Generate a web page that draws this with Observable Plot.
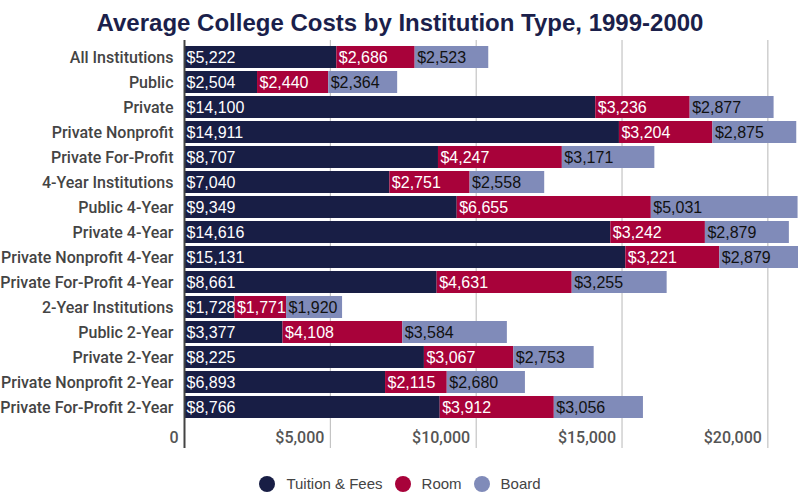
<!DOCTYPE html>
<html>
<head>
<meta charset="utf-8">
<script src="https://cdn.jsdelivr.net/npm/d3@7"></script>
<script src="https://cdn.jsdelivr.net/npm/@observablehq/plot@0.6"></script>
<style>
  html, body { margin: 0; padding: 0; background: #fff; }
  #wrap { width: 800px; height: 500px; position: relative; }
  #title {
    height: 38px; line-height: 45px; text-align: center;
    font-family: "Liberation Sans", Arial, sans-serif; font-weight: 700; font-size: 24px; color: #1b1f4b;
  }
  #chart svg { display: block; }
  #legend {
    position: absolute; left: 0; right: 0; top: 475px;
    display: flex; justify-content: center; align-items: center;
    font-family: "Liberation Sans", Arial, sans-serif; font-size: 15px; color: #444;
  }
  .item { display: flex; align-items: center; margin: 0 6px; }
  .dot { width: 16px; height: 16px; border-radius: 50%; margin-right: 11px; }
</style>
</head>
<body>
<div id="wrap">
  <div id="title">Average College Costs by Institution Type, 1999-2000</div>
  <div id="chart"></div>
  <div id="legend"></div>
</div>
<script>
const categories = [
  "All Institutions", "Public", "Private", "Private Nonprofit", "Private For-Profit",
  "4-Year Institutions", "Public 4-Year", "Private 4-Year", "Private Nonprofit 4-Year",
  "Private For-Profit 4-Year", "2-Year Institutions", "Public 2-Year", "Private 2-Year",
  "Private Nonprofit 2-Year", "Private For-Profit 2-Year"
];
const tuition = [5222, 2504, 14100, 14911, 8707, 7040, 9349, 14616, 15131, 8661, 1728, 3377, 8225, 6893, 8766];
const room    = [2686, 2440, 3236, 3204, 4247, 2751, 6655, 3242, 3221, 4631, 1771, 4108, 3067, 2115, 3912];
const board   = [2523, 2364, 2877, 2875, 3171, 2558, 5031, 2879, 2879, 3255, 1920, 3584, 2753, 2680, 3056];
const parts = ["Tuition & Fees", "Room", "Board"];
const colors = ["#181e45", "#a8023a", "#808bb9"];
const xTicks = [0, 5000, 10000, 15000, 20000];

const series = [tuition, room, board];
const rows = [];
categories.forEach((c, i) => {
  parts.forEach((p, j) => rows.push({category: c, part: p, value: series[j][i]}));
});

const money = d3.format("$,");
const stackOpts = {x: "value", y: "category", z: "part", order: parts};
const labelFont = {textAnchor: "start", dx: 2, fontSize: 16, fontFamily: "Liberation Sans, Arial, sans-serif"};

const chart = Plot.plot({
  width: 800,
  height: 416,
  marginTop: 2,
  marginBottom: 6,
  marginLeft: 184,
  marginRight: 2,
  x: {domain: [0, 21050], axis: null},
  y: {domain: categories, axis: null, paddingInner: 0.13, paddingOuter: 0, insetTop: 2, insetBottom: 26},
  color: {domain: parts, range: colors},
  marks: [
    Plot.ruleX(xTicks.slice(1), {stroke: "#b8b8b8", strokeWidth: 1}),
    Plot.barX(rows, Plot.stackX({...stackOpts, fill: "part", clip: true})),
    // value labels at the left edge of each segment: light on dark segments, dark on Board
    Plot.text(rows, Plot.stackX1({
      ...stackOpts, ...labelFont, fill: "white",
      text: d => d.part === "Board" ? "" : money(d.value)
    })),
    Plot.text(rows, Plot.stackX1({
      ...stackOpts, ...labelFont, fill: "#111",
      text: d => d.part === "Board" ? money(d.value) : ""
    })),
    Plot.ruleX([0], {stroke: "#444", strokeWidth: 2}),
    Plot.text(categories, {
      y: d => d, frameAnchor: "left", textAnchor: "end", dx: -11,
      fill: "#444", fontSize: 16, fontWeight: 500, fontFamily: "Roboto, sans-serif"
    }),
    Plot.text(xTicks, {
      x: d => d, text: d => d === 0 ? "0" : money(d), frameAnchor: "bottom",
      textAnchor: "end", dx: -6, dy: -6, fill: "#555", fontSize: 16, fontWeight: 500,
      fontFamily: "Roboto, sans-serif"
    })
  ]
});
document.getElementById("chart").append(chart);

const legend = document.getElementById("legend");
parts.forEach((p, i) => {
  const item = document.createElement("div");
  item.className = "item";
  const dot = document.createElement("span");
  dot.className = "dot";
  dot.style.background = colors[i];
  const label = document.createElement("span");
  label.textContent = p;
  item.append(dot, label);
  legend.append(item);
});
</script>
</body>
</html>
